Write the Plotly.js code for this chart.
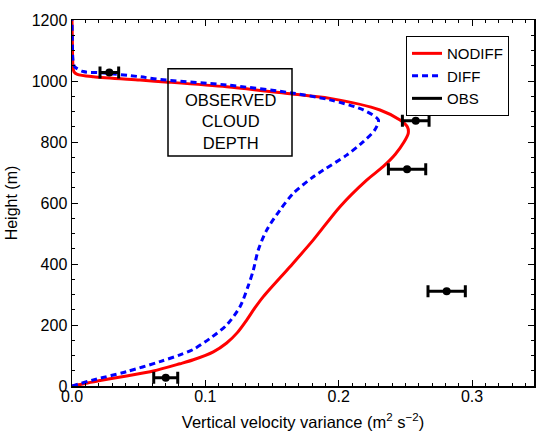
<!DOCTYPE html>
<html>
<head>
<meta charset="utf-8">
<script src="https://cdn.plot.ly/plotly-3.0.1.min.js"></script>
<style>html,body{margin:0;padding:0;background:#fff;}#chart{width:536px;height:431px;}</style>
</head>
<body>
<div id="chart"></div>
<script>
// NODIFF profile
const nodiffX = [0, 0.004, 0.02, 0.041, 0.061, 0.081, 0.091, 0.106, 0.116, 0.124, 0.131, 0.137, 0.1435, 0.1635, 0.181, 0.201, 0.221, 0.2335, 0.2425, 0.249, 0.2522, 0.2515, 0.246, 0.231, 0.1935, 0.16, 0.116, 0.07, 0.051, 0.016, 0.004, 0.0015, 0.0008, 0.0005, 0.0003, 0];
const nodiffY = [0, 3, 17, 33, 49, 73, 86, 112, 141, 175, 216, 255, 293, 391, 479, 588, 675, 720, 760, 800, 829, 850, 872, 905, 943, 960, 981, 997, 1003, 1014, 1022, 1030, 1045, 1070, 1120, 1200];
// DIFF profile
const diffX = [0, 0.0047, 0.016, 0.041, 0.066, 0.081, 0.091, 0.1035, 0.116, 0.126, 0.132, 0.136, 0.1397, 0.146, 0.156, 0.166, 0.181, 0.1885, 0.206, 0.2185, 0.227, 0.2298, 0.2185, 0.1935, 0.166, 0.116, 0.066, 0.051, 0.021, 0.0085, 0.002, 0.001, 0.0005, 0.0003, 0];
const diffY = [0, 6, 20, 47, 80, 102, 120, 156, 200, 260, 326, 380, 446, 511, 577, 632, 686, 708, 757, 801, 839, 872, 905, 938, 960, 987, 1005, 1014, 1027, 1031, 1047, 1060, 1080, 1120, 1200];
// Observations
const obsX = [0.0703, 0.281, 0.2513, 0.2578, 0.028];
const obsY = [27, 311, 711, 870, 1028];
const obsErr = [0.009, 0.014, 0.014, 0.010, 0.007];
// Cloud depth box
const cloudBoxX = [0.072, 0.165];
const cloudBoxY = [754, 1040];
const cloudText = "OBSERVED<br>CLOUD<br>DEPTH";

const FONT = "Liberation Sans, Arial, Helvetica, sans-serif";

const traces = [
  {x: nodiffX, y: nodiffY, name: "NODIFF", mode: "lines", line: {color: "#ff0000", width: 3, shape: "spline", smoothing: 0.8}},
  {x: diffX, y: diffY, name: "DIFF", mode: "lines", line: {color: "#0000ff", width: 3, dash: "6px,4px", shape: "spline", smoothing: 0.8}},
  {x: obsX, y: obsY, name: "OBS", mode: "markers", showlegend: false,
   marker: {color: "#000", size: 8},
   error_x: {type: "data", array: obsErr, visible: true, color: "#000", thickness: 3, width: 6}},
  {x: [null], y: [null], name: "OBS", mode: "lines", line: {color: "#000", width: 3}}
];

const axisCommon = {
  showline: true, linecolor: "#000", linewidth: 1.5, mirror: "allticks",
  ticks: "inside", ticklen: 6, tickwidth: 1, tickcolor: "#000",
  showgrid: false, zeroline: false,
  tickfont: {family: FONT, size: 16, color: "#000"}
};

const layout = {
  width: 536, height: 431,
  margin: {l: 72, r: 2, t: 20, b: 45},
  paper_bgcolor: "#fff", plot_bgcolor: "#fff",
  font: {family: FONT, color: "#000"},
  xaxis: Object.assign({}, axisCommon, {
    range: [0, 0.3465], dtick: 0.1, tick0: 0, tickformat: ".1f",
    ticklabelstandoff: -5,
    minor: {ticks: "inside", ticklen: 3, dtick: 0.01, tickcolor: "#000", showgrid: false},
    title: {text: "Vertical velocity variance (m<sup>2</sup> s<sup>\u22122</sup>)", font: {family: FONT, size: 16.5, color: "#000"}, standoff: 12}
  }),
  yaxis: Object.assign({}, axisCommon, {
    range: [0, 1200], dtick: 200, tick0: 0,
    minor: {ticks: "inside", ticklen: 3, dtick: 50, tickcolor: "#000", showgrid: false},
    title: {text: "Height (m)", font: {family: FONT, size: 16, color: "#000"}, standoff: 10}
  }),
  legend: {
    x: 0.723, y: 0.956, xanchor: "left", yanchor: "top",
    bordercolor: "#000", borderwidth: 1, bgcolor: "#fff",
    font: {family: FONT, size: 15, color: "#000"},
    tracegroupgap: 0
  },
  shapes: [{type: "rect", xref: "x", yref: "y", x0: cloudBoxX[0], x1: cloudBoxX[1], y0: cloudBoxY[0], y1: cloudBoxY[1], line: {color: "#000", width: 1.5}, fillcolor: "rgba(0,0,0,0)", layer: "above"}],
  annotations: [{xref: "x", yref: "y", x: (cloudBoxX[0] + cloudBoxX[1]) / 2, y: 867, text: cloudText, showarrow: false, align: "center", font: {family: FONT, size: 16.5, color: "#000"}}]
};

Plotly.newPlot("chart", traces, layout, {staticPlot: true, displayModeBar: false});
</script>
</body>
</html>
